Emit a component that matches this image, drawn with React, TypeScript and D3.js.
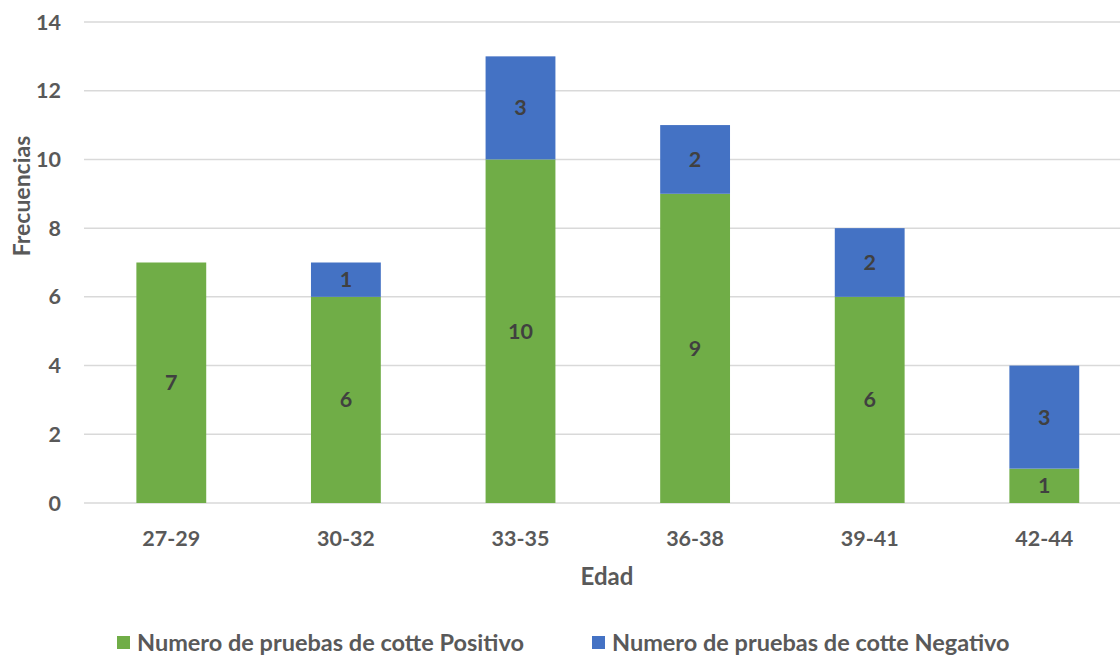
import React from "react";
import * as d3 from "d3";

const categories = ["27-29", "30-32", "33-35", "36-38", "39-41", "42-44"];
const positivo = [7, 6, 10, 9, 6, 1];
const negativo = [0, 1, 3, 2, 2, 3];
const yTicks = [0, 2, 4, 6, 8, 10, 12, 14];
const seriesNames = ["Numero de pruebas de cotte Positivo", "Numero de pruebas de cotte Negativo"];
const seriesColors = ["#70AD47", "#4472C4"];

const W = 1120;
const H = 656;
const FONT = "Lato, 'Open Sans', sans-serif";

export default function App() {
  const x = d3.scaleBand<string>().domain(categories).range([84, 1131.6]).paddingInner(0.6).paddingOuter(0.3);
  const y = d3.scaleLinear().domain([0, 14]).range([503, 22]);

  const rows = categories.map((c, i) => ({ cat: c, pos: positivo[i], neg: negativo[i] }));
  const stack = d3.stack<any>().keys(["pos", "neg"])(rows);

  return (
    <svg width={W} height={H} style={{ position: "absolute", left: 0, top: 0, background: "#fff" }} fontFamily={FONT}>
      {yTicks.map((t) => (
        <g key={t}>
          <line x1={84} x2={W} y1={y(t)} y2={y(t)} stroke="#d9d9d9" strokeWidth={1.5} />
          <text x={61} y={y(t)} dy="0.35em" textAnchor="end" fontSize={21.5} fontWeight={700} fill="#595959">
            {t}
          </text>
        </g>
      ))}
      {stack.map((s, si) => (
        <g key={si} fill={seriesColors[si]}>
          {s.map((d, i) =>
            d[1] - d[0] > 0 ? (
              <rect key={i} x={x(categories[i])} width={x.bandwidth()} y={y(d[1])} height={y(d[0]) - y(d[1])} />
            ) : null
          )}
        </g>
      ))}
      {stack.map((s, si) =>
        s.map((d, i) =>
          d[1] - d[0] > 0 ? (
            <text
              key={`${si}-${i}`}
              x={(x(categories[i]) as number) + x.bandwidth() / 2}
              y={y((d[0] + d[1]) / 2)}
              dy="0.35em"
              textAnchor="middle"
              fontSize={21.5}
              fontWeight={700}
              fill="#404040"
            >
              {d[1] - d[0]}
            </text>
          ) : null
        )
      )}
      {categories.map((c) => (
        <text key={c} x={(x(c) as number) + x.bandwidth() / 2} y={538} dy="0.35em" textAnchor="middle" fontSize={21.5} fontWeight={700} fill="#595959">
          {c}
        </text>
      ))}
      <text x={607} y={577} dy="0.35em" textAnchor="middle" fontSize={24} fontWeight={700} fill="#595959">
        Edad
      </text>
      <text transform="translate(22,196) rotate(-90)" dy="0.35em" textAnchor="middle" fontSize={23} fontWeight={700} fill="#595959">
        Frecuencias
      </text>
      {seriesNames.map((n, i) => {
        const lx = i === 0 ? 117 : 592;
        return (
          <g key={n}>
            <rect x={lx} y={636} width={13} height={13} fill={seriesColors[i]} />
            <text x={lx + 20} y={643} dy="0.35em" fontSize={23.5} fontWeight={700} fill="#595959">
              {n}
            </text>
          </g>
        );
      })}
    </svg>
  );
}
